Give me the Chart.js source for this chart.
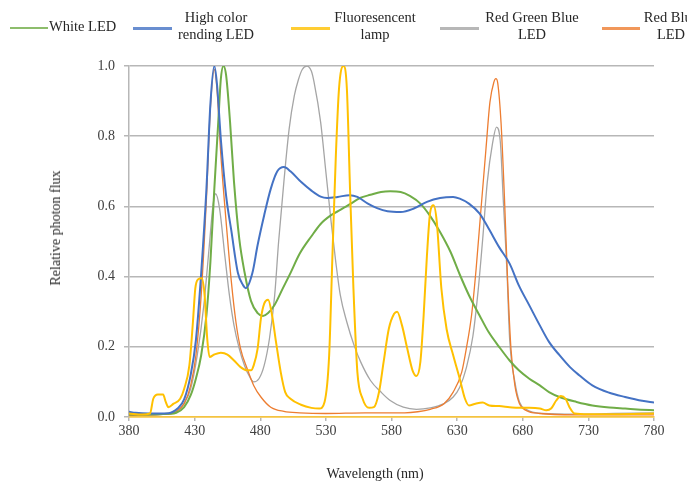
<!DOCTYPE html>
<html>
<head>
<meta charset="utf-8">
<script src="https://cdn.jsdelivr.net/npm/chart.js@4.4.1/dist/chart.umd.min.js"></script>
<style>
  html, body { margin: 0; padding: 0; background: #fff; }
  #frame {
    position: relative; width: 687px; height: 485px; overflow: hidden;
    font-family: 'Liberation Serif', 'Times New Roman', serif; color: #262626;
  }
  #frame canvas { position: absolute; left: 0; top: 0; }
  .key-line { position: absolute; height: 0; }
  .key-text { position: absolute; font-size: 14.5px; line-height: 17px; white-space: nowrap; }
  .axis-title { position: absolute; font-size: 14px; line-height: 16px; white-space: nowrap; }
</style>
</head>
<body>
<div id="frame">
  <canvas id="chart" width="687" height="485"></canvas>
  <div id="legend"></div>
  <div class="axis-title" id="xTitle" style="left:375px; top:466px; transform:translateX(-50%)">Wavelength (nm)</div>
  <div class="axis-title" id="yTitle" style="left:56px; top:228px; transform:translate(-50%,-50%) rotate(-90deg)">Relative photon flux</div>
</div>
<script>
// x axis ticks (nm) and y axis ticks (relative flux)
const wavelengthTicks = [380, 430, 480, 530, 580, 630, 680, 730, 780]
const fluxTicks = [0, 0.2, 0.4, 0.6, 0.8, 1.0]

// White LED
const whiteNm = [380, 395, 410, 416, 422, 427, 431, 435, 439, 442, 445, 448, 450, 452, 454, 457, 460, 464, 468, 473, 478, 482, 486, 491, 497, 503, 510, 519, 526, 534, 541, 549, 556, 564, 572, 579, 587, 594, 602, 609, 617, 625, 632, 639, 647, 654, 662, 670, 677, 685, 693, 700, 708, 721, 733, 746, 758, 770, 780]
const whiteFlux = [0.007, 0.007, 0.009, 0.012, 0.028, 0.062, 0.11, 0.176, 0.29, 0.44, 0.65, 0.84, 0.964, 1.0, 0.973, 0.84, 0.67, 0.508, 0.413, 0.33, 0.296, 0.288, 0.296, 0.32, 0.365, 0.41, 0.465, 0.515, 0.55, 0.575, 0.59, 0.608, 0.624, 0.633, 0.641, 0.643, 0.641, 0.63, 0.608, 0.575, 0.527, 0.47, 0.406, 0.347, 0.29, 0.242, 0.2, 0.161, 0.133, 0.109, 0.09, 0.071, 0.057, 0.043, 0.033, 0.027, 0.024, 0.021, 0.019]

// High color rendering LED
const highCriNm = [380, 385, 395, 410, 417, 422, 427, 431, 435, 439, 442, 445, 447, 450, 454, 458, 463, 467, 469, 474, 478, 483, 488, 493, 498, 503, 511, 519, 526, 531, 539, 548, 554, 562, 569, 577, 587, 597, 607, 617, 627, 632, 639, 647, 654, 662, 670, 677, 685, 693, 700, 708, 716, 723, 733, 746, 758, 771, 780]
const highCriFlux = [0.015, 0.012, 0.01, 0.011, 0.024, 0.05, 0.12, 0.22, 0.41, 0.65, 0.89, 1.0, 0.95, 0.79, 0.63, 0.53, 0.41, 0.375, 0.367, 0.41, 0.49, 0.575, 0.65, 0.70, 0.712, 0.70, 0.67, 0.645, 0.628, 0.624, 0.627, 0.632, 0.627, 0.608, 0.595, 0.586, 0.584, 0.594, 0.613, 0.624, 0.627, 0.622, 0.608, 0.58, 0.537, 0.484, 0.437, 0.375, 0.318, 0.261, 0.214, 0.176, 0.142, 0.119, 0.09, 0.069, 0.057, 0.046, 0.041]

// Fluorescent lamp
const fluorNm = [380, 390, 396, 398.5, 402, 406, 408, 410, 414, 419, 422, 426, 428.7, 430.5, 432.5, 435.5, 437.6, 439.6, 441.4, 445, 450, 455, 460, 465, 470, 473, 475, 478, 480.5, 483, 486, 489, 492, 495.6, 499, 503, 511, 519, 525, 529, 532.5, 535, 537.6, 540, 543.4, 546, 548.4, 551, 554, 558, 563, 566.6, 570.5, 574, 578, 582, 584.3, 588, 592, 596, 599, 602, 604.5, 607, 609.5, 612, 614.5, 618, 622, 627, 632, 636, 639, 644, 649.5, 654.5, 662, 670, 677, 685, 693, 698, 701.6, 705.5, 709, 712.6, 715.6, 719.5, 730, 750, 780]
const fluorFlux = [0.01, 0.007, 0.01, 0.052, 0.064, 0.064, 0.043, 0.028, 0.038, 0.052, 0.08, 0.147, 0.27, 0.366, 0.392, 0.395, 0.347, 0.223, 0.171, 0.178, 0.183, 0.178, 0.161, 0.142, 0.133, 0.133, 0.147, 0.195, 0.28, 0.323, 0.334, 0.29, 0.214, 0.128, 0.071, 0.052, 0.035, 0.026, 0.024, 0.043, 0.176, 0.46, 0.745, 0.935, 1.0, 0.935, 0.65, 0.366, 0.128, 0.052, 0.026, 0.028, 0.071, 0.157, 0.252, 0.294, 0.3, 0.261, 0.195, 0.133, 0.117, 0.157, 0.29, 0.46, 0.584, 0.603, 0.556, 0.366, 0.25, 0.176, 0.109, 0.052, 0.033, 0.038, 0.041, 0.033, 0.031, 0.028, 0.026, 0.026, 0.024, 0.019, 0.024, 0.047, 0.06, 0.052, 0.028, 0.01, 0.008, 0.008, 0.01]

// Red Green Blue LED
const rgbNm = [380, 410, 415, 422, 427, 432, 437, 441, 444, 446, 449, 453, 456.5, 460, 464, 468, 472, 475, 479, 483, 487, 491, 494, 498, 502, 506, 509, 512, 515.6, 519, 521, 526, 530, 534, 537.6, 541, 546, 551.5, 556.5, 564, 572, 579, 589, 599, 609.5, 620, 627, 632, 637, 642, 646, 649.5, 653, 657, 660, 663, 665, 668, 670, 674, 677.5, 682.5, 695, 720, 750, 780]
const rgbFlux = [0.005, 0.008, 0.014, 0.038, 0.08, 0.176, 0.318, 0.48, 0.603, 0.636, 0.594, 0.46, 0.347, 0.261, 0.195, 0.147, 0.114, 0.10, 0.109, 0.147, 0.223, 0.347, 0.5, 0.67, 0.82, 0.916, 0.96, 0.99, 1.0, 0.985, 0.954, 0.84, 0.698, 0.556, 0.44, 0.347, 0.27, 0.204, 0.157, 0.104, 0.071, 0.047, 0.028, 0.022, 0.026, 0.038, 0.057, 0.085, 0.14, 0.23, 0.36, 0.508, 0.67, 0.78, 0.826, 0.78, 0.63, 0.413, 0.223, 0.1, 0.043, 0.022, 0.01, 0.008, 0.01, 0.012]

// Red Blue LED
const rbNm = [380, 410, 416, 422, 427, 431, 435, 439, 442, 445, 447, 450, 454, 458, 461.5, 465, 470, 475, 480.5, 488, 498, 510, 530, 560, 590, 600, 609.5, 620, 627, 633.5, 637, 641, 644.5, 648, 652, 655, 658, 659.5, 661, 663.5, 666, 668.5, 671, 674, 677.5, 682.5, 693, 720, 750, 780]
const rbFlux = [0.005, 0.008, 0.015, 0.038, 0.09, 0.176, 0.347, 0.622, 0.88, 0.99, 0.935, 0.745, 0.556, 0.385, 0.27, 0.195, 0.138, 0.09, 0.057, 0.028, 0.016, 0.012, 0.01, 0.012, 0.012, 0.015, 0.022, 0.038, 0.071, 0.128, 0.195, 0.29, 0.423, 0.584, 0.765, 0.897, 0.954, 0.964, 0.95, 0.836, 0.63, 0.385, 0.195, 0.09, 0.038, 0.019, 0.01, 0.006, 0.006, 0.006]

const legendLabels = [
  ['White LED'],
  ['High color', 'rending LED'],
  ['Fluoresencent', 'lamp'],
  ['Red Green Blue', 'LED'],
  ['Red Blue', 'LED']
]

const GRID = '#b7b7b7'
const TEXT = '#404040'

// z: lower draws on top (thin grey/orange sit underneath)
const series = [
  { nm: whiteNm, flux: whiteFlux, color: '#70ad47', width: 2, z: 2 },
  { nm: highCriNm, flux: highCriFlux, color: '#4472c4', width: 2, z: 1 },
  { nm: fluorNm, flux: fluorFlux, color: '#ffc000', width: 2, z: 0 },
  { nm: rgbNm, flux: rgbFlux, color: '#a5a5a5', width: 1.3, z: 4 },
  { nm: rbNm, flux: rbFlux, color: '#ed7d31', width: 1.3, z: 3 }
]

const toPoints = (xs, ys) => xs.map((x, i) => ({ x, y: ys[i] }))

const datasets = series.map((s, i) => ({
  label: legendLabels[i].join(' '),
  data: toPoints(s.nm, s.flux),
  borderColor: s.color,
  borderWidth: s.width,
  pointRadius: 0,
  fill: false,
  cubicInterpolationMode: 'monotone',
  order: s.z
}))

// legend across the top: sample line, then one or two lines of text
const legendSlots = [
  { line: [10, 48], text: 49, align: 'left' },
  { line: [133, 172], text: 216 },
  { line: [291, 330], text: 375 },
  { line: [440, 479], text: 532 },
  { line: [602, 640], text: 671 }
]

const legendEl = document.getElementById('legend')
legendSlots.forEach((slot, i) => {
  const line = document.createElement('div')
  line.className = 'key-line'
  line.style.left = slot.line[0] + 'px'
  line.style.width = (slot.line[1] - slot.line[0]) + 'px'
  line.style.top = (i === 0 ? 27 : 26.5) + 'px'
  line.style.borderTop = (i === 0 ? 2 : 3) + 'px solid ' + series[i].color
  line.style.opacity = 0.8
  legendEl.appendChild(line)

  const text = document.createElement('div')
  text.className = 'key-text'
  text.innerHTML = legendLabels[i].join('<br>')
  text.style.left = slot.text + 'px'
  if (slot.align === 'left') {
    text.style.top = '17.5px'
  } else {
    text.style.top = '8.5px'
    text.style.textAlign = 'center'
    text.style.transform = 'translateX(-50%)'
  }
  legendEl.appendChild(text)
})

const tickFont = { family: "'Liberation Serif', 'Times New Roman', serif", size: 14 }

new Chart(document.getElementById('chart'), {
  type: 'line',
  data: { datasets },
  options: {
    responsive: false,
    animation: false,
    devicePixelRatio: 1,
    layout: { padding: { top: 66, right: 33, bottom: 0, left: 0 } },
    plugins: {
      legend: { display: false },
      tooltip: { enabled: false }
    },
    scales: {
      x: {
        type: 'linear',
        min: wavelengthTicks[0],
        max: wavelengthTicks[wavelengthTicks.length - 1],
        afterBuildTicks: scale => { scale.ticks = wavelengthTicks.map(v => ({ value: v })) },
        afterFit: scale => { scale.height = 68 },
        ticks: { color: TEXT, font: tickFont, padding: 2, maxRotation: 0 },
        grid: { drawOnChartArea: false, tickLength: 4, color: GRID, lineWidth: 1.5 },
        border: { color: '#f4c340', width: 1.8 }
      },
      y: {
        min: 0,
        max: 1,
        afterBuildTicks: scale => { scale.ticks = fluxTicks.map(v => ({ value: v })) },
        afterFit: scale => { scale.width = 129 },
        ticks: { color: TEXT, font: tickFont, padding: 9, callback: v => v.toFixed(1) },
        grid: {
          color: ctx => (ctx.tick && ctx.tick.value === 0 ? 'rgba(0,0,0,0)' : GRID),
          tickColor: GRID,
          lineWidth: 1.5,
          tickLength: 5
        },
        border: { color: GRID, width: 1.5 }
      }
    }
  }
})
</script>
</body>
</html>
